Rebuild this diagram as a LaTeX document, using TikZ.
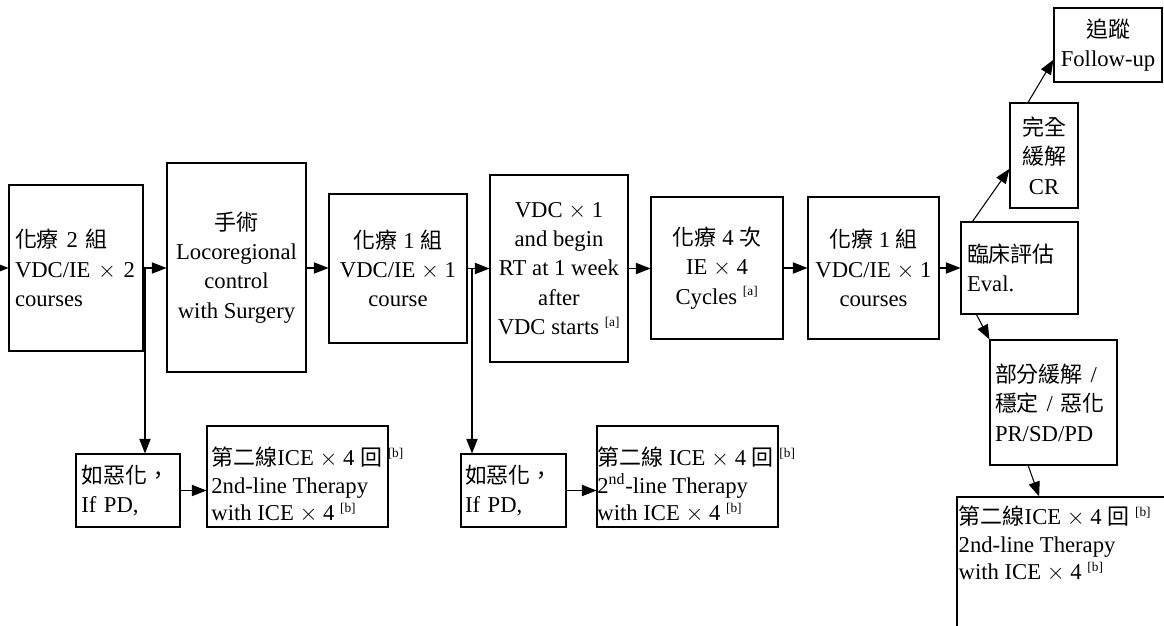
\documentclass[tikz,border=0pt]{standalone}
\usepackage{fontspec}
\setmainfont{Liberation Serif}
\newfontfamily\zhfont{Noto Sans CJK TC}[Scale=0.97]
\usetikzlibrary{arrows.meta}

\newcommand{\zh}[1]{{\zhfont #1}}
\newcommand{\fn}[1]{\textsuperscript{\fontsize{10}{10}\selectfont[#1]}}

\tikzset{
  box/.style={draw, line width=0.8pt, inner sep=0pt, font=\fontsize{17}{22}\selectfont},
  lbox/.style={box, align=left},
  cbox/.style={box, align=center},
  txt/.style={inner sep=0pt, align=left, font=\fontsize{17}{20.5}\selectfont},
  arr/.style={line width=0.8pt, -{Triangle[length=11pt,width=8.5pt]}}
}

\begin{document}
\begin{tikzpicture}[x=0.75pt,y=0.75pt,yscale=-1,xscale=1]
\useasboundingbox (0,0) rectangle (1164,625);
\clip (0,0) rectangle (1164,625);

% main row
\node[lbox, text width=91.5pt, inner xsep=4.5pt, minimum height=124.5pt] (chemoA) at (76,268) {\zh{化療} 2 \zh{組}\\VDC/IE $\times$ 2\\courses};
\node[cbox, minimum width=104.25pt, minimum height=156.75pt] (surgery) at (236.5,267.5) {\zh{手術}\\Locoregional\\control\\with Surgery};
\node[cbox, minimum width=103.5pt, minimum height=111.75pt] (chemoB) at (398,268.5) {\zh{化療} 1 \zh{組}\\VDC/IE $\times$ 1\\course};
\node[cbox, minimum width=103.5pt, minimum height=140.25pt] (radio) at (559,268.5) {VDC $\times$ 1\\and begin\\RT at 1 week\\after\\VDC starts \fn{a}};
\node[cbox, minimum width=99pt, minimum height=106.5pt] (chemoC) at (717,268) {\zh{化療} 4 \zh{次}\\IE $\times$ 4\\Cycles \fn{a}};
\node[cbox, minimum width=98.25pt, minimum height=106.5pt] (chemoD) at (873.5,268) {\zh{化療} 1 \zh{組}\\VDC/IE $\times$ 1\\courses};
\node[lbox, text width=78.75pt, inner xsep=4.5pt, minimum height=69pt] (eval) at (1019.5,268) {\zh{臨床評估}\\Eval.};

% outcomes
\node[cbox, minimum width=51pt, minimum height=78.75pt] (cr) at (1044,155.5) {\zh{完全}\\\zh{緩解}\\CR};
\node[cbox, minimum width=81pt, minimum height=55.5pt] (follow) at (1108,45) {\zh{追蹤}\\Follow-up};
\node[lbox, text width=87.75pt, inner xsep=3.75pt, minimum height=93.75pt] (partial) at (1053.5,402.5) {\zh{部分緩解} /\\\zh{穩定} / \zh{惡化}\\PR/SD/PD};
\node[box, minimum width=174.75pt, minimum height=122.25pt] (secC) at (1073.5,578.5) {};
\node[txt, anchor=north west] (secCtext) at ([xshift=1.5pt,yshift=7pt]secC.north west) {\zh{第二線}ICE $\times$ 4 \zh{回} \fn{b}\\2nd-line Therapy\\with ICE $\times$ 4 \fn{b}};

% progression branches
\node[lbox, text width=70pt, inner xsep=4pt, minimum height=54.75pt] (ifpdA) at (128,490.5) {\zh{如惡化，}\\If PD,};
\node[box, minimum width=135.75pt, minimum height=75.75pt] (secA) at (297.5,476.5) {};
\node[txt, anchor=north west] (secAtext) at ([xshift=3.5pt,yshift=16pt]secA.north west) {\zh{第二線}ICE $\times$ 4 \zh{回} \fn{b}\\2nd-line Therapy\\with ICE $\times$ 4 \fn{b}};
\node[lbox, text width=72.75pt, inner xsep=3pt, minimum height=54.75pt] (ifpdB) at (513.5,490.5) {\zh{如惡化，}\\If PD,};
\node[box, minimum width=135.75pt, minimum height=75.75pt] (secB) at (687.5,476.5) {};
\node[txt, anchor=north west] (secBtext) at ([xshift=0.5pt,yshift=16pt]secB.north west) {\zh{第二線} ICE $\times$ 4 \zh{回} \fn{b}\\2\textsuperscript{nd}-line Therapy\\with ICE $\times$ 4 \fn{b}};

% connectors
\coordinate (entry) at (-14,268);
\coordinate (splitA) at (145,268);
\coordinate (splitB) at (472,268);
\draw[arr] (entry) -- (chemoA.west);
\draw[arr] (chemoA.east) -- (chemoA.east -| surgery.west);
\draw[arr] (chemoA.east -| surgery.east) -- (chemoA.east -| chemoB.west);
\draw[arr] (chemoB.east) -- (chemoB.east -| radio.west);
\draw[arr] (chemoB.east -| radio.east) -- (chemoB.east -| chemoC.west);
\draw[arr] (chemoC.east) -- (chemoD.west);
\draw[arr] (chemoD.east) -- (eval.west);
\draw[arr] (splitA) -- (splitA |- ifpdA.north);
\draw[arr] (splitB) -- (splitB |- ifpdB.north);
\draw[arr] (ifpdA.east) -- (ifpdA.east -| secA.west);
\draw[arr] (ifpdB.east) -- (ifpdB.east -| secB.west);
\draw[arr] ([xshift=9pt]eval.north west) -- ([yshift=10pt]cr.west);
\draw[arr] ([xshift=-12pt]cr.north) -- ([yshift=11pt]follow.west);
\draw[arr] ([xshift=12pt]eval.south west) -- (partial.north west);
\draw[arr] ([xshift=-19pt]partial.south) -- ([xshift=62pt]secC.north west);

\end{tikzpicture}
\end{document}
